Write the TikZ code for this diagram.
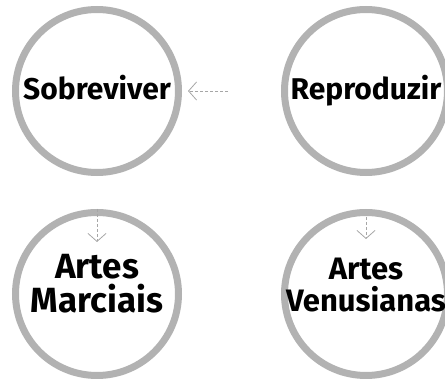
\documentclass[tikz,border=0pt]{standalone}
\usepackage{fontspec}
\setmainfont{Fira Sans}
\usetikzlibrary{matrix,arrows.meta}

\begin{document}
\begin{tikzpicture}[
    ring/.style={circle, draw=gray!60, line width=7pt, minimum size=163pt, inner sep=-14pt, align=center},
    faintarrow/.style={draw=gray!70, dash pattern=on 3pt off 2pt, line width=0.8pt, -{Straight Barb[length=8pt, width=18pt]}}
  ]
    \useasboundingbox (0,0) rectangle (445pt,-379pt);
    \matrix (goals) at (231.5pt,-192.5pt) [ampersand replacement=\&,
            row sep=33pt,
            column sep=99pt] {
      \node[ring, font=\fontsize{30}{34}\selectfont\bfseries, text depth=8pt] (sobreviver) {Sobreviver}; \&
      \node[ring, font=\fontsize{30}{34}\selectfont\bfseries, text depth=8pt] (reproduzir) {Reproduzir}; \\
      \node[ring, font=\fontsize{35}{34}\selectfont\bfseries, text depth=22pt] (marciais) {Artes\\Marciais}; \&
      \node[ring, font=\fontsize{31}{32}\selectfont\bfseries, text depth=18pt] (venusianas) {Artes\\Venusianas}; \\
    };
    % faint arrow heads left on the scan
    \coordinate (fromright) at ([xshift=46pt]sobreviver.east);
    \coordinate (marciaisin) at ([yshift=-33pt]marciais.north);
    \coordinate (venusianasin) at ([yshift=-30pt]venusianas.north);
    \draw[faintarrow, shorten >=6pt] (fromright) -- (sobreviver.east);
    \draw[faintarrow] (marciais.north) -- (marciaisin);
    \draw[faintarrow, shorten <=8pt] (venusianas.north) -- (venusianasin);
    \end{tikzpicture}
\end{document}
